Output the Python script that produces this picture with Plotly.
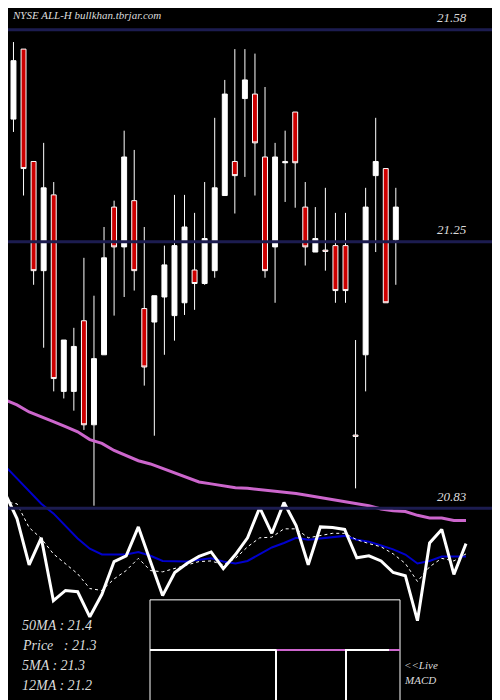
import plotly.graph_objects as go

# daily candles
opens = [21.382, 21.441, 21.550, 21.375, 21.205, 21.323, 21.017, 21.017, 21.127, 20.965,
         21.074, 21.304, 21.242, 21.314, 21.146, 21.125, 21.164, 21.135, 21.155, 21.206,
         21.185, 21.205, 21.322, 21.375, 21.473, 21.480, 21.382, 21.242, 21.375, 21.452,
         21.304, 21.234, 21.237, 21.244, 21.244, 20.949, 21.074, 21.353, 21.364, 21.253]
highs = [21.580, 21.561, 21.550, 21.375, 21.404, 21.343, 21.097, 21.116, 21.225, 21.166,
         21.273, 21.314, 21.423, 21.393, 21.273, 21.166, 21.244, 21.323, 21.323, 21.295,
         21.343, 21.443, 21.502, 21.550, 21.550, 21.543, 21.491, 21.404, 21.423, 21.452,
         21.343, 21.304, 21.334, 21.295, 21.295, 21.097, 21.334, 21.443, 21.364, 21.334]
lows = [21.343, 21.421, 21.322, 21.183, 21.085, 21.017, 21.006, 20.987, 20.957, 20.839,
        21.074, 21.135, 21.164, 21.174, 21.026, 20.948, 21.074, 21.096, 21.136, 21.144,
        21.183, 21.194, 21.322, 21.294, 21.351, 21.322, 21.194, 21.155, 21.312, 21.303,
        21.213, 21.234, 21.205, 21.155, 21.155, 20.866, 21.017, 21.234, 21.155, 21.183]
closes = [21.521, 21.532, 21.364, 21.205, 21.334, 21.037, 21.097, 21.087, 20.965, 21.068,
          21.225, 21.242, 21.382, 21.205, 21.055, 21.166, 21.214, 21.244, 21.273, 21.185,
          21.255, 21.334, 21.480, 21.353, 21.502, 21.404, 21.205, 21.382, 21.373, 21.373,
          21.242, 21.255, 21.235, 21.174, 21.174, 20.947, 21.304, 21.375, 21.155, 21.304]

# indicator lines drawn under the candles
price_line = [20.853, 20.853, 20.859, 20.819, 20.747, 20.789, 20.691, 20.707, 20.705, 20.666,
              20.701, 20.752, 20.761, 20.806, 20.752, 20.699, 20.735, 20.749, 20.760, 20.767,
              20.741, 20.763, 20.789, 20.836, 20.796, 20.844, 20.808, 20.747, 20.806, 20.805,
              20.802, 20.758, 20.761, 20.753, 20.735, 20.730, 20.660, 20.781, 20.802, 20.732, 20.780]
ma5 = [20.853, 20.853, 20.845, 20.842, 20.805, 20.788, 20.764, 20.749, 20.733, 20.710,
       20.707, 20.725, 20.738, 20.757, 20.738, 20.736, 20.741, 20.746, 20.752, 20.753,
       20.747, 20.757, 20.775, 20.789, 20.790, 20.803, 20.803, 20.789, 20.792, 20.796,
       20.796, 20.786, 20.780, 20.775, 20.764, 20.749, 20.721, 20.744, 20.757, 20.753, 20.764]
ma12 = [20.909, 20.909, 20.901, 20.881, 20.862, 20.842, 20.827, 20.808, 20.788, 20.772,
        20.763, 20.763, 20.763, 20.767, 20.761, 20.753, 20.752, 20.752, 20.755, 20.757,
        20.752, 20.749, 20.753, 20.763, 20.774, 20.781, 20.789, 20.786, 20.788, 20.791,
        20.792, 20.786, 20.783, 20.777, 20.771, 20.763, 20.749, 20.753, 20.760, 20.760, 20.760]
ma50 = [21.013, 21.010, 21.004, 20.996, 20.985, 20.978, 20.970, 20.962, 20.954, 20.942,
        20.936, 20.925, 20.917, 20.909, 20.904, 20.897, 20.890, 20.884, 20.876, 20.873,
        20.870, 20.867, 20.866, 20.864, 20.862, 20.861, 20.858, 20.855, 20.852, 20.848,
        20.845, 20.842, 20.839, 20.834, 20.831, 20.830, 20.824, 20.820, 20.820, 20.816, 20.816]

levels = [21.58, 21.25, 20.835]
level_labels = ['21.58', '21.25', '20.83']
info = ['50MA : 21.4', 'Price   : 21.3', '5MA : 21.3', '12MA : 21.2']

serif = dict(family='Liberation Serif', color='#dddddd')
dx, dy = -0.016, 0.0115

fig = go.Figure()
for lv in levels:
    fig.add_hline(y=lv, line=dict(color='#1c1c50', width=3))

idx = list(range(len(price_line)))
fig.add_trace(go.Scatter(x=idx, y=ma50, xaxis='x2', mode='lines',
                         line=dict(color='#cc66cc', width=3)))
fig.add_trace(go.Scatter(x=idx, y=ma12, xaxis='x2', mode='lines',
                         line=dict(color='#0000cc', width=2)))
fig.add_trace(go.Scatter(x=idx, y=ma5, xaxis='x2', mode='lines',
                         line=dict(color='white', width=1, dash='dot')))
fig.add_trace(go.Scatter(x=idx, y=price_line, xaxis='x2', mode='lines',
                         line=dict(color='white', width=3)))

fig.add_trace(go.Candlestick(
    x=list(range(len(opens))), open=opens, high=highs, low=lows, close=closes,
    increasing=dict(fillcolor='white', line=dict(color='white', width=1)),
    decreasing=dict(fillcolor='#cc0000', line=dict(color='white', width=1)),
    whiskerwidth=0))

# MACD mini panel
fig.add_shape(type='rect', xref='paper', yref='paper', x0=0.30 + dx, x1=0.80 + dx,
              y0=-0.02, y1=0.143 + dy, line=dict(color='white', width=1), fillcolor='black')
fig.add_shape(type='line', xref='paper', yref='paper', x0=0.30 + dx, x1=0.80 + dx,
              y0=0.0714 + dy, y1=0.0714 + dy, line=dict(color='white', width=2))
for a, b in [(0.553, 0.69), (0.778, 0.80)]:
    fig.add_shape(type='line', xref='paper', yref='paper', x0=a + dx, x1=b + dx,
                  y0=0.0714 + dy, y1=0.0714 + dy, line=dict(color='#cc66cc', width=2))
for a in [0.552, 0.692]:
    fig.add_shape(type='line', xref='paper', yref='paper', x0=a + dx, x1=a + dx,
                  y0=-0.02, y1=0.0714 + dy, line=dict(color='white', width=2))

ann = [dict(x=0.02, y=0.978, text='<i>NYSE ALL-H bullkhan.tbrjar.com</i>', size=11)]
for lv, lab in zip(levels, level_labels):
    ann.append(dict(x=0.87, y=None, yv=lv, text='<i>' + lab + '</i>', size=13))
for i, t in enumerate(info):
    ann.append(dict(x=0.04, y=0.107 - i * 0.029, text='<i>' + t + '</i>', size=14))
ann.append(dict(x=0.803, y=0.05, text='<i>&lt;&lt;Live</i>', size=11))
ann.append(dict(x=0.803, y=0.028, text='<i>MACD</i>', size=11))
for a in ann:
    if a['y'] is None:
        fig.add_annotation(x=a['x'] + dx, xref='paper', y=a['yv'], yref='y', yshift=12,
                           text=a['text'], showarrow=False, xanchor='left',
                           font=dict(size=a['size'], **serif))
    else:
        fig.add_annotation(x=a['x'] + dx, xref='paper', y=a['y'] + dy, yref='paper',
                           text=a['text'], showarrow=False, xanchor='left', yanchor='middle',
                           font=dict(size=a['size'], **serif))

fig.update_layout(
    width=500, height=700, margin=dict(l=0, r=0, t=0, b=0),
    paper_bgcolor='black', plot_bgcolor='black', showlegend=False,
    xaxis=dict(range=[0.455, 50.15], visible=False, rangeslider=dict(visible=False)),
    xaxis2=dict(range=[2.26, 43.46], overlaying='x', visible=False),
    yaxis=dict(range=[20.524, 21.614], visible=False),
)
fig.write_html('out.html')
